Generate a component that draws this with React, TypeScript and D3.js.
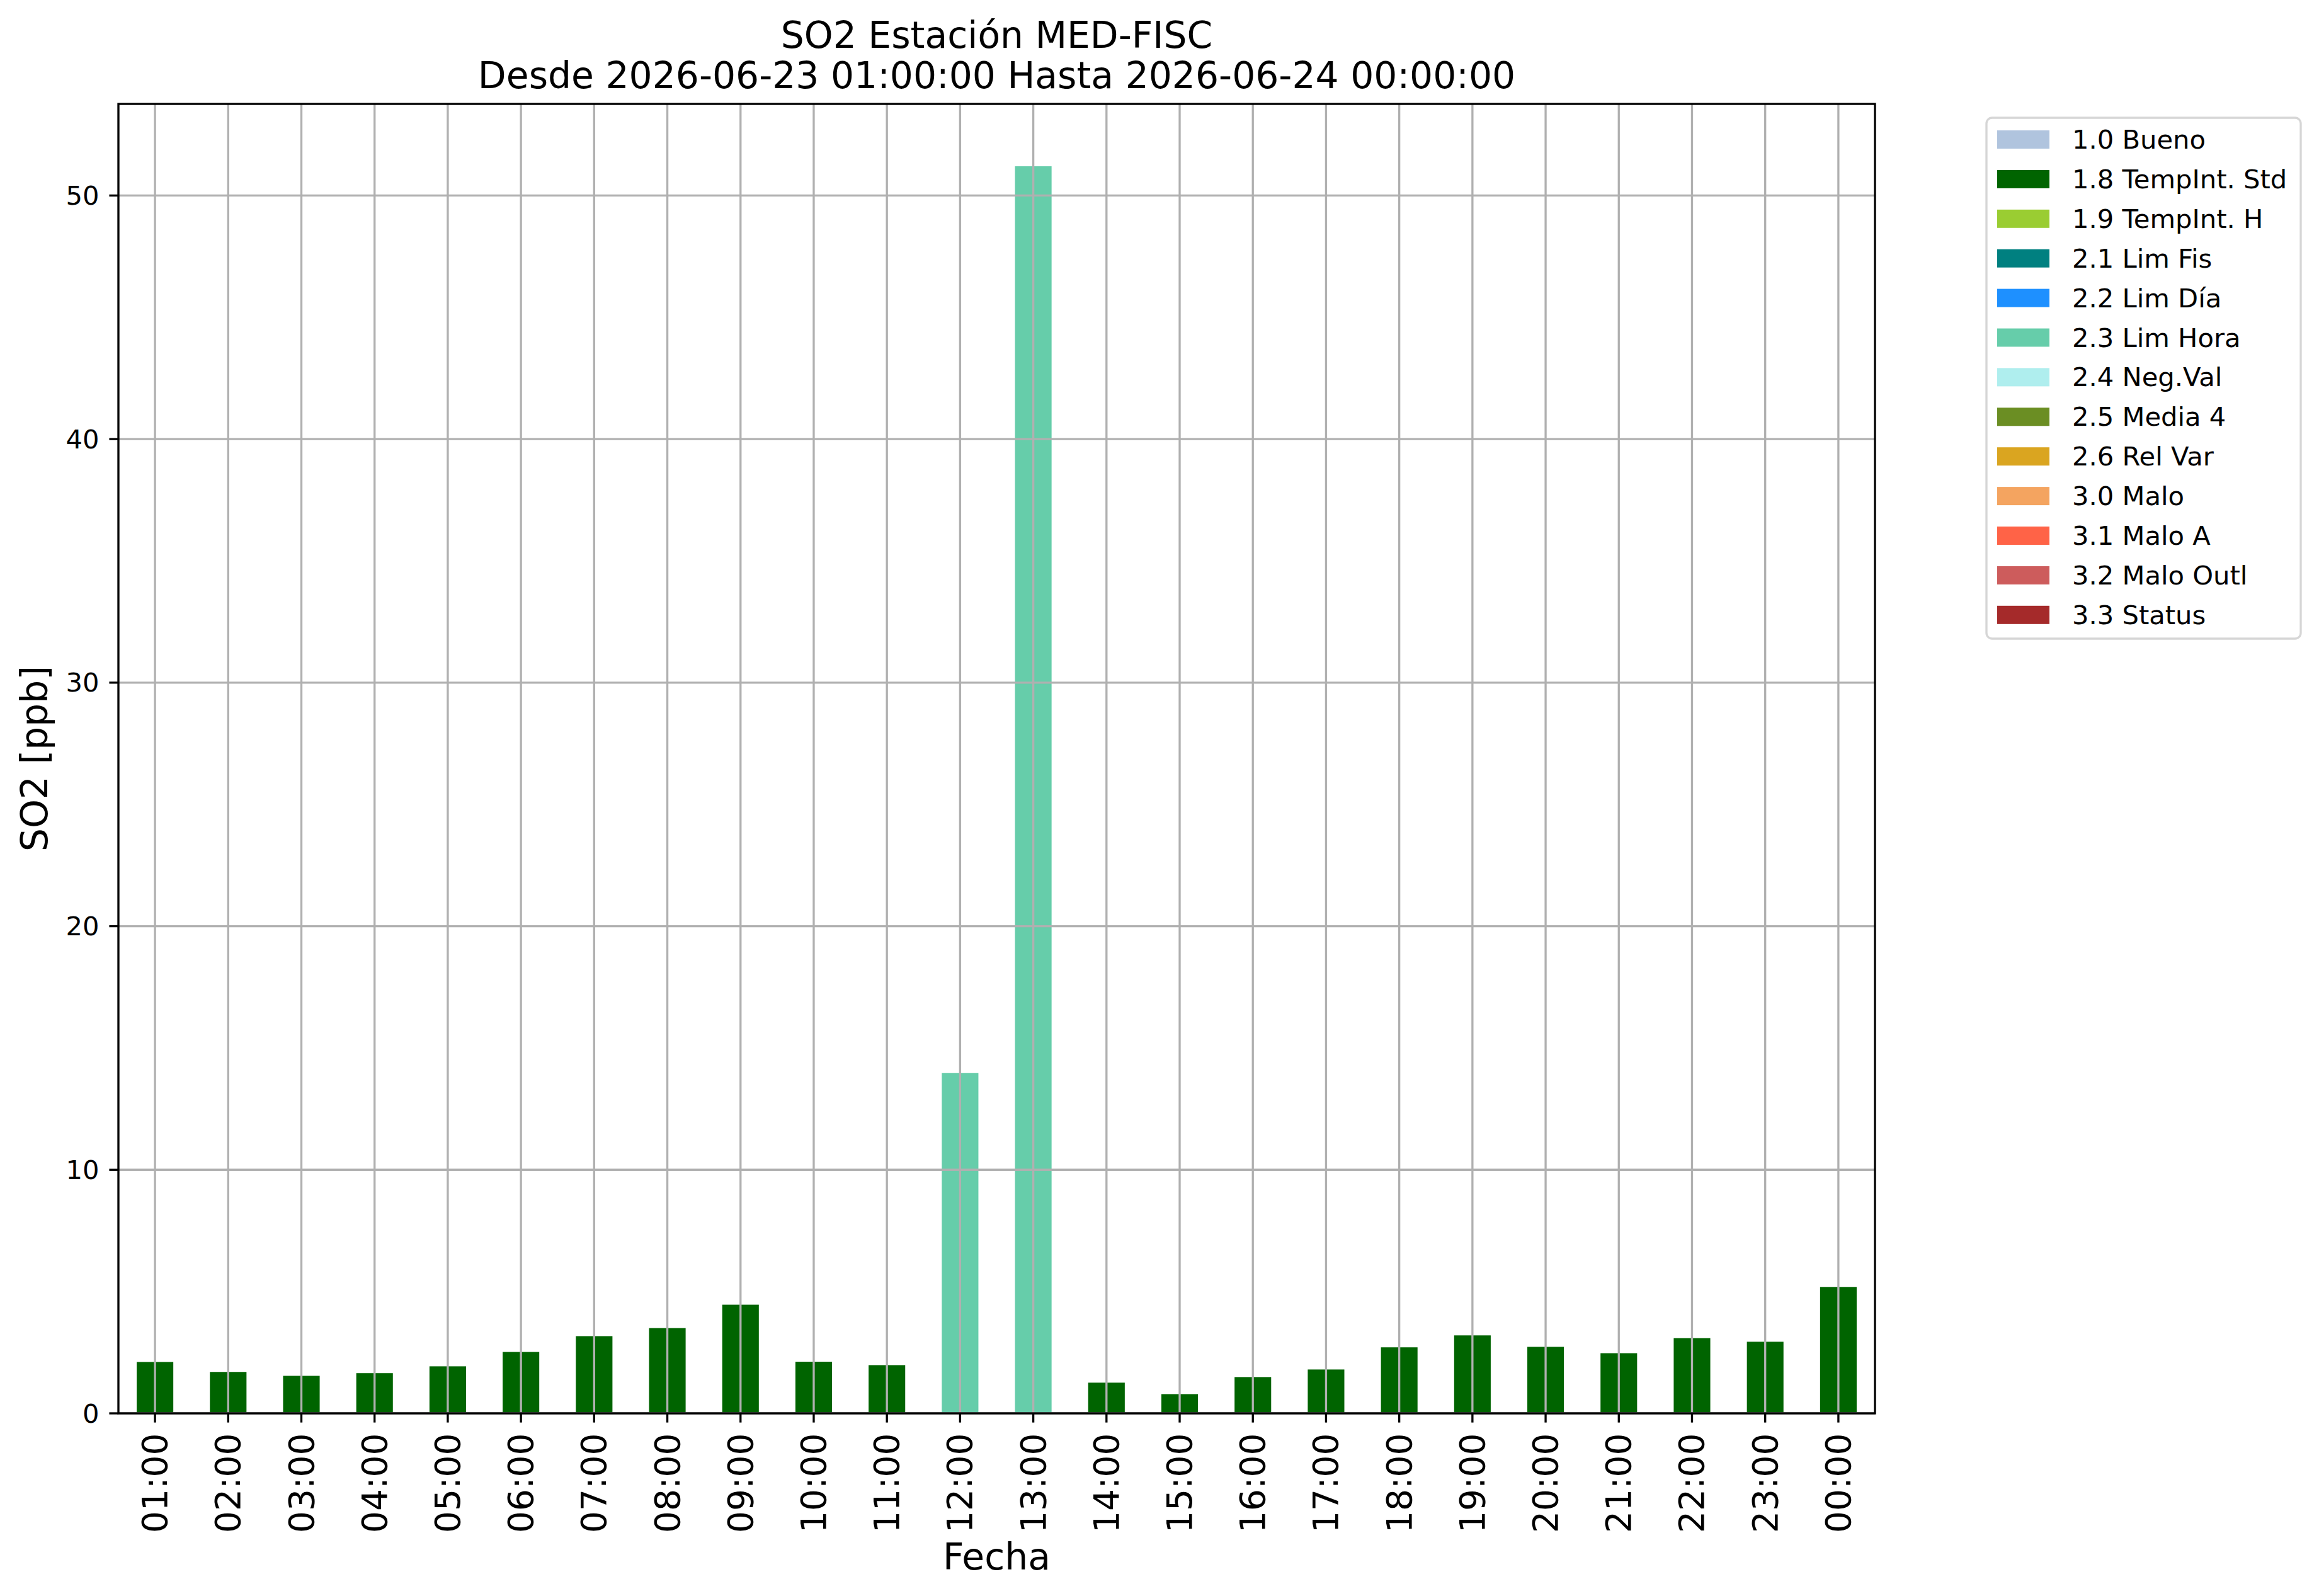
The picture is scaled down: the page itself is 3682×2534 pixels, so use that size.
import React from "react";
import * as d3 from "d3";

const hours = ["01:00","02:00","03:00","04:00","05:00","06:00","07:00","08:00","09:00","10:00","11:00","12:00","13:00","14:00","15:00","16:00","17:00","18:00","19:00","20:00","21:00","22:00","23:00","00:00"];
const values = [2.11,1.70,1.54,1.65,1.93,2.52,3.17,3.50,4.46,2.12,1.98,13.97,51.2,1.26,0.79,1.49,1.80,2.71,3.20,2.73,2.47,3.09,2.94,5.19];
const flags = ["1.8","1.8","1.8","1.8","1.8","1.8","1.8","1.8","1.8","1.8","1.8","2.3","2.3","1.8","1.8","1.8","1.8","1.8","1.8","1.8","1.8","1.8","1.8","1.8"];
const legendCodes = ["1.0","1.8","1.9","2.1","2.2","2.3","2.4","2.5","2.6","3.0","3.1","3.2","3.3"];
const legendNames = ["Bueno","TempInt. Std","TempInt. H","Lim Fis","Lim Día","Lim Hora","Neg.Val","Media 4","Rel Var","Malo","Malo A","Malo Outl","Status"];
const legendColors = ["#B0C4DE","#006400","#9ACD32","#008080","#1E90FF","#66CDAA","#AFEEEE","#6B8E23","#DAA520","#F4A460","#FF6347","#CD5C5C","#A52A2A"];
const yTicks = [0,10,20,30,40,50];
const title1 = "SO2 Estación MED-FISC";
const title2 = "Desde 2026-06-23 01:00:00 Hasta 2026-06-24 00:00:00";

const W = 3682, H = 2534;
const L = 188, R = 2977, T = 165, B = 2244;
const FONT = "DejaVu Sans";
const PT = 300 / 72;

export default function App() {
  const colorOf = d3.scaleOrdinal<string, string>().domain(legendCodes).range(legendColors);
  const x = d3.scaleBand<string>().domain(hours).range([L, R]).paddingInner(0.5).paddingOuter(0.25);
  const yMax = (d3.max(values) as number) * 1.05;
  const y = d3.scaleLinear().domain([0, yMax]).range([B, T]);
  const center = (h: string) => (x(h) as number) + x.bandwidth() / 2;
  const grid = "#b0b0b0";
  const lw = 0.8 * PT;
  const tickLen = 3.5 * PT;

  const legX = 3154, legY = 187, legW = 499, legH = 827;
  const rowH = 62.9, firstRow = 221.5;

  return (
    <svg width={W} height={H} style={{ position: "absolute", left: 0, top: 0, background: "#fff" }} fontFamily={FONT}>
      <rect x={0} y={0} width={W} height={H} fill="#fff" />
      {/* bars */}
      {hours.map((h, i) => (
        <rect key={h} x={x(h)} y={y(values[i])} width={x.bandwidth()} height={B - y(values[i])} fill={colorOf(flags[i])} />
      ))}
      {/* grid */}
      {hours.map((h) => (
        <line key={"gx" + h} x1={center(h)} x2={center(h)} y1={T} y2={B} stroke={grid} strokeWidth={lw} />
      ))}
      {yTicks.map((t) => (
        <line key={"gy" + t} x1={L} x2={R} y1={y(t)} y2={y(t)} stroke={grid} strokeWidth={lw} />
      ))}
      {/* spines */}
      <rect x={L} y={T} width={R - L} height={B - T} fill="none" stroke="#000" strokeWidth={lw} />
      {/* y ticks */}
      {yTicks.map((t) => (
        <g key={"yt" + t}>
          <line x1={L - tickLen} x2={L} y1={y(t)} y2={y(t)} stroke="#000" strokeWidth={lw} />
          <text x={L - tickLen - 16} y={y(t)} textAnchor="end" dominantBaseline="central" fontSize={10 * PT}>{t}</text>
        </g>
      ))}
      {/* x ticks */}
      {hours.map((h) => (
        <g key={"xt" + h}>
          <line x1={center(h)} x2={center(h)} y1={B} y2={B + tickLen} stroke="#000" strokeWidth={lw} />
          <text transform={`translate(${center(h)},${B + tickLen + 17}) rotate(-90)`} textAnchor="end" dominantBaseline="central" fontSize={13.2 * PT}>{h}</text>
        </g>
      ))}
      {/* labels */}
      <text x={(L + R) / 2} y={2492} textAnchor="middle" fontSize={14 * PT}>Fecha</text>
      <text transform={`translate(75,${(T + B) / 2}) rotate(-90)`} textAnchor="middle" fontSize={14 * PT}>SO2 [ppb]</text>
      <text x={(L + R) / 2} y={76} textAnchor="middle" fontSize={14 * PT}>{title1}</text>
      <text x={(L + R) / 2} y={140} textAnchor="middle" fontSize={14 * PT}>{title2}</text>
      {/* legend */}
      <rect x={legX} y={legY} width={legW} height={legH} rx={9} ry={9} fill="#fff" stroke="#d6d6d6" strokeWidth={lw} />
      {legendCodes.map((c, i) => (
        <g key={"lg" + c}>
          <rect x={3171} y={firstRow + i * rowH - 14.5} width={83} height={29} fill={legendColors[i]} />
          <text x={3290} y={firstRow + i * rowH} dominantBaseline="central" fontSize={10 * PT}>{c + " " + legendNames[i]}</text>
        </g>
      ))}
    </svg>
  );
}
